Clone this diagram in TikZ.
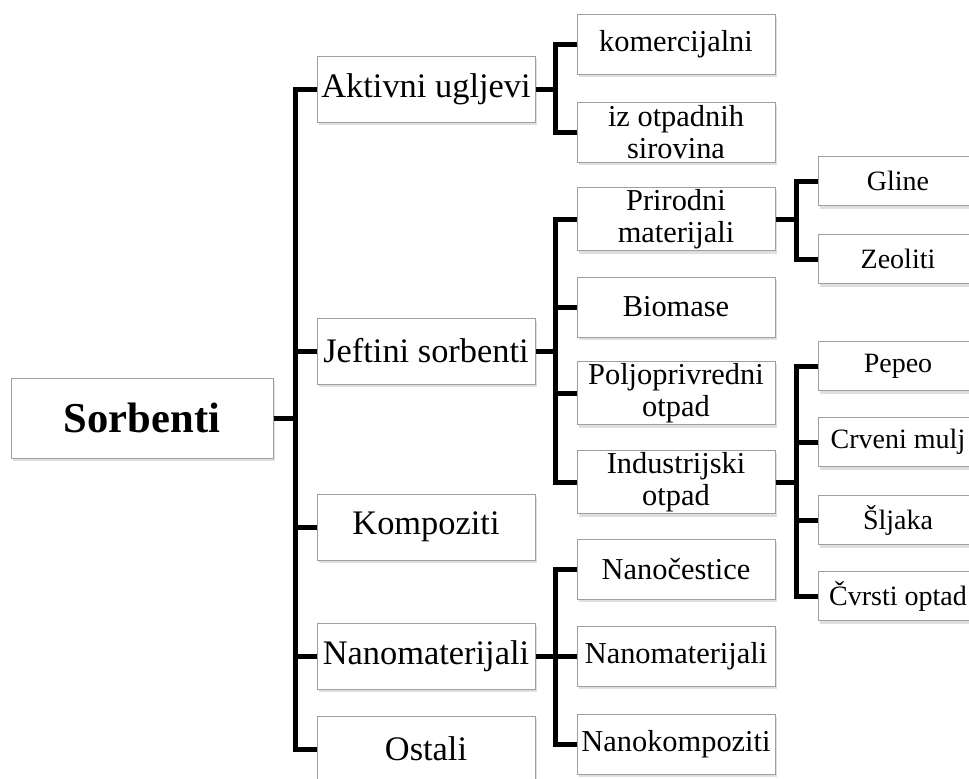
\documentclass[tikz,border=0pt]{standalone}
\usepackage{fontspec}
\setmainfont{Liberation Serif}
\usetikzlibrary{shadows}
\tikzstyle{box} = [draw=gray!75, fill=white, line width=0.5pt, inner sep=1pt, align=center, drop shadow={opacity=0.25, shadow xshift=0.8pt, shadow yshift=-1.5pt}]
\tikzstyle{root} = [box, minimum width=131pt, minimum height=40pt, font=\bfseries\fontsize{21.3}{24}\selectfont]
\tikzstyle{first} = [box, minimum width=109pt, minimum height=33pt, font=\fontsize{17.2}{19}\selectfont]
\tikzstyle{second} = [box, minimum width=99pt, minimum height=30pt, font=\fontsize{15.2}{16.2}\selectfont]
\tikzstyle{third} = [box, minimum width=80pt, minimum height=24.5pt, font=\fontsize{14}{16}\selectfont]
\tikzstyle{link} = [line width=2.5pt]

\begin{document}
\begin{tikzpicture}[x=0.5pt, y=-0.5pt]
\useasboundingbox (0,0) rectangle (969,778);

%nodes
\node (1) [root] at (142,418) {Sorbenti};
\node (2) [first] at (426,89) {Aktivni ugljevi};
\node (3) [first] at (426,351) {Jeftini sorbenti};
\node (4) [first] at (426,527) {Kompoziti};
\node (5) [first] at (426,656) {Nanomaterijali};
\node (6) [first] at (426,749) {Ostali};
\node (7) [second] at (676,44) {komercijalni};
\node (8) [second] at (676,132) {iz otpadnih \\ sirovina};
\node (9) [second] at (676,219) {Prirodni \\ materijali};
\node (10) [second] at (676,307) {Biomase};
\node (11) [second] at (676,393) {Poljoprivredni \\ otpad};
\node (12) [second] at (676,482) {Industrijski \\ otpad};
\node (13) [second] at (676,569) {Nanočestice};
\node (14) [second] at (676,656) {Nanomaterijali};
\node (15) [second] at (676,744) {Nanokompoziti};
\node (16) [third] at (898,181) {Gline};
\node (17) [third] at (898,259) {Zeoliti};
\node (18) [third] at (898,366) {Pepeo};
\node (19) [third] at (898,442) {Crveni mulj};
\node (20) [third] at (898,520) {Šljaka};
\node (21) [third] at (898,596) {Čvrsti optad};

%arrows
\foreach \n in {2,3,4,5,6}
  \draw [link] (1.east) -- ++(11pt,0) |- (\n.west);
\foreach \n in {7,8}
  \draw [link] (2.east) -- ++(10pt,0) |- (\n.west);
\foreach \n in {9,10,11,12}
  \draw [link] (3.east) -- ++(10pt,0) |- (\n.west);
\foreach \n in {13,14,15}
  \draw [link] (5.east) -- ++(10pt,0) |- (\n.west);
\foreach \n in {16,17}
  \draw [link] (9.east) -- ++(10.5pt,0) |- (\n.west);
\foreach \n in {18,19,20,21}
  \draw [link] (12.east) -- ++(10.5pt,0) |- (\n.west);

\end{tikzpicture}
\end{document}
